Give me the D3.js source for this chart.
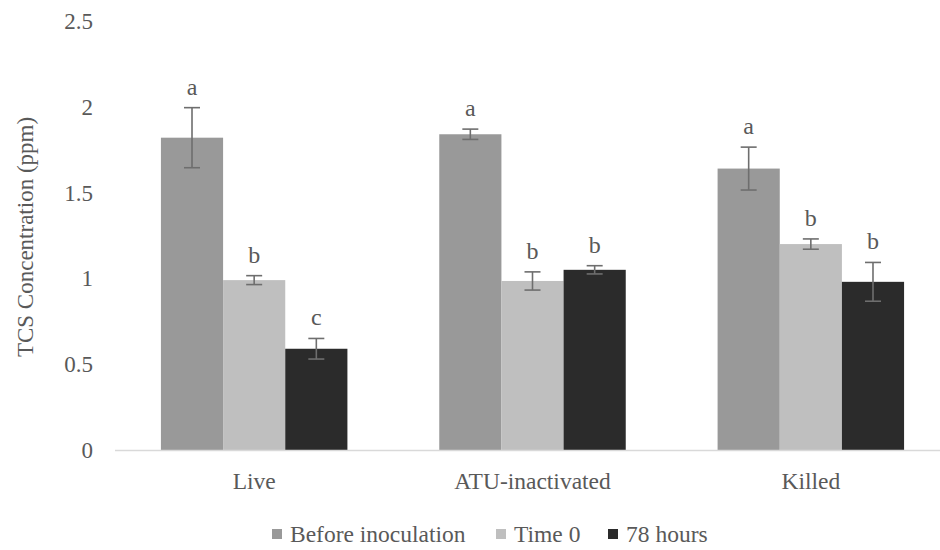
<!DOCTYPE html>
<html>
<head>
<meta charset="utf-8">
<script src="https://cdn.jsdelivr.net/npm/d3@7"></script>
<style>
  body { margin: 0; background: #fff; }
  text { font-family: "Liberation Serif", "Times New Roman", serif; fill: #595959; }
</style>
</head>
<body>
<div id="viz"></div>
<script>
const categories = ["Live", "ATU-inactivated", "Killed"];
const seriesNames = ["Before inoculation", "Time 0", "78 hours"];

// means
const beforeVals = [1.82, 1.84, 1.64];
const time0Vals = [0.99, 0.985, 1.20];
const hours78Vals = [0.59, 1.05, 0.98];

// error bars (+/-)
const beforeErr = [0.175, 0.03, 0.125];
const time0Err = [0.026, 0.053, 0.03];
const hours78Err = [0.06, 0.024, 0.113];

// significance letters
const beforeSig = ["a", "a", "a"];
const time0Sig = ["b", "b", "b"];
const hours78Sig = ["c", "b", "b"];

const yTicks = [0, 0.5, 1, 1.5, 2, 2.5];
const colors = ["#999999", "#bfbfbf", "#2b2b2b"];

const allVals = [beforeVals, time0Vals, hours78Vals];
const allErr = [beforeErr, time0Err, hours78Err];
const allSig = [beforeSig, time0Sig, hours78Sig];

const data = [];
categories.forEach((c, i) => {
  seriesNames.forEach((s, j) => {
    data.push({ cat: c, series: s, value: allVals[j][i], err: allErr[j][i], sig: allSig[j][i], idx: j });
  });
});

const width = 940;
const height = 550;

const svg = d3.select('#viz')
  .append("svg")
  .attr("width", width)
  .attr("height", height);

const x0 = d3.scaleBand().domain(categories).range([115, 950])
  .paddingInner(0.33).paddingOuter(0.165);
const x1 = d3.scaleBand().domain(seriesNames).range([0, x0.bandwidth()]);
const y = d3.scaleLinear().domain([0, 2.5]).range([450, 21]);

// y tick labels
svg.selectAll(".ytick")
  .data(yTicks)
  .enter().append("text")
  .attr("class", "ytick")
  .attr("x", 93)
  .attr("y", d => y(d))
  .attr("dy", "0.35em")
  .attr("text-anchor", "end")
  .attr("font-size", 23)
  .text(d => d);

// y title
svg.append("text")
  .attr("transform", "translate(33," + 237 + ") rotate(-90)")
  .attr("text-anchor", "middle")
  .attr("font-size", 23)
  .text("TCS Concentration (ppm)");

// bars
svg.selectAll(".bar")
  .data(data)
  .enter().append("rect")
  .attr("class", "bar")
  .attr("x", d => x0(d.cat) + x1(d.series))
  .attr("width", x1.bandwidth())
  .attr("y", d => y(d.value))
  .attr("height", d => y(0) - y(d.value))
  .attr("fill", d => colors[d.idx]);

// axis line
svg.append("line")
  .attr("x1", 115).attr("x2", 950)
  .attr("y1", y(0) + 0.5).attr("y2", y(0) + 0.5)
  .attr("stroke", "#d9d9d9")
  .attr("stroke-width", 1.5);

// error bars
const cx = d => x0(d.cat) + x1(d.series) + x1.bandwidth() / 2;
const errG = svg.selectAll(".err")
  .data(data)
  .enter().append("g")
  .attr("class", "err")
  .attr("stroke", "#6e6e6e")
  .attr("stroke-width", 1.6);
errG.append("line")
  .attr("x1", cx).attr("x2", cx)
  .attr("y1", d => y(d.value + d.err)).attr("y2", d => y(d.value - d.err));
errG.append("line")
  .attr("x1", d => cx(d) - 8).attr("x2", d => cx(d) + 8)
  .attr("y1", d => y(d.value + d.err)).attr("y2", d => y(d.value + d.err));
errG.append("line")
  .attr("x1", d => cx(d) - 8).attr("x2", d => cx(d) + 8)
  .attr("y1", d => y(d.value - d.err)).attr("y2", d => y(d.value - d.err));

// letters
svg.selectAll(".sig")
  .data(data)
  .enter().append("text")
  .attr("class", "sig")
  .attr("x", cx)
  .attr("y", d => y(d.value + d.err) - 13)
  .attr("text-anchor", "middle")
  .attr("font-size", 24)
  .text(d => d.sig);

// category labels
svg.selectAll(".xlab")
  .data(categories)
  .enter().append("text")
  .attr("class", "xlab")
  .attr("x", d => x0(d) + x0.bandwidth() / 2)
  .attr("y", 481)
  .attr("dy", "0.35em")
  .attr("text-anchor", "middle")
  .attr("font-size", 23.5)
  .text(d => d);

// legend
const legendX = [272, 496, 608];
const leg = svg.selectAll(".leg")
  .data(seriesNames)
  .enter().append("g")
  .attr("class", "leg")
  .attr("transform", (d, i) => "translate(" + legendX[i] + ",529)");
leg.append("rect")
  .attr("width", 10).attr("height", 10)
  .attr("fill", (d, i) => colors[i]);
leg.append("text")
  .attr("x", 18)
  .attr("y", 5)
  .attr("dy", "0.35em")
  .attr("font-size", 23.5)
  .text(d => d);
</script>
</body>
</html>
